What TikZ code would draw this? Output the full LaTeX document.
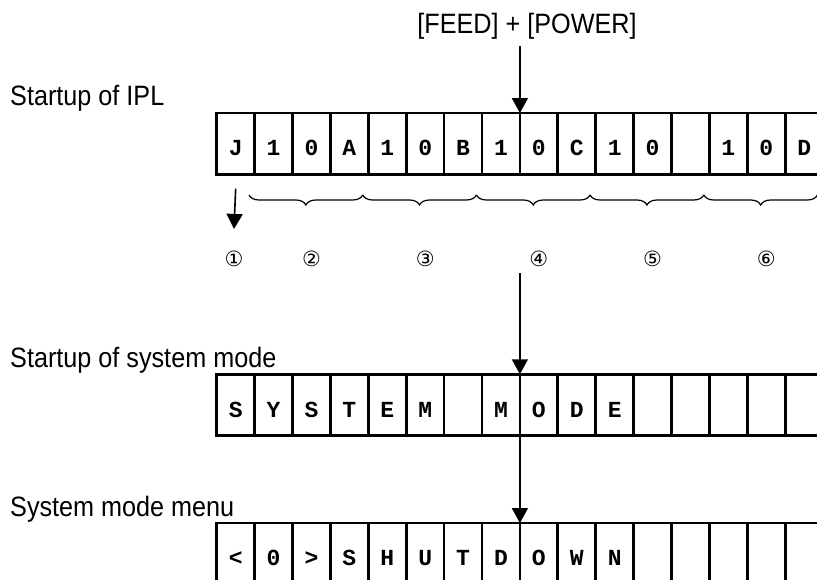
\documentclass[tikz,border=0pt]{standalone}
\usepackage{fontspec}
\usetikzlibrary{arrows.meta, positioning, calc, decorations.pathreplacing}
\newfontfamily\lblfont[FakeStretch=0.9]{Liberation Sans}
\newfontfamily\cellfont{Liberation Mono}
\newfontfamily\circfont{DejaVu Sans}

\begin{document}
\begin{tikzpicture}[x=1pt, y=-1pt,
    cell/.style={draw, line width=2.7pt, minimum width=37.9pt, minimum height=61.5pt,
        inner sep=0pt, outer sep=0pt, text height=24pt, text depth=0pt,
        font=\cellfont\bfseries\fontsize{23}{23}\selectfont},
    lbl/.style={anchor=base west, inner sep=0pt, font=\lblfont\fontsize{28}{30}\selectfont},
    num/.style={inner sep=0pt, font=\circfont\fontsize{21}{21}\selectfont},
    arr/.style={line width=1.6pt, -{Triangle[length=15pt, width=16pt]}},
    brc/.style={line width=1.2pt, decorate, decoration={brace, mirror, amplitude=10pt}}]
    \useasboundingbox (0,0) rectangle (817,580);

    % the three display rows
    \foreach \ch [count=\i] in {J,1,0,A,1,0,B,1,0,C,1,0,{},1,0,D}
        \node[cell] (c1-\i) at ({216.7+37.9*(\i-0.5)}, 143.8) {\ch};
    \foreach \ch [count=\i] in {S,Y,S,T,E,M,{},M,O,D,E,{},{},{},{},{}}
        \node[cell] (c2-\i) at ({216.7+37.9*(\i-0.5)}, 405) {\ch};
    \foreach \ch [count=\i] in {<,0,>,S,H,U,T,D,O,W,N,{},{},{},{},{}}
        \node[cell] (c3-\i) at ({216.7+37.9*(\i-0.5)}, 553.8) {\ch};

    % labels
    \node[lbl] (ipl) at (10, 106) {Startup of IPL};
    \node[lbl] (sysmode) at (10, 367) {Startup of system mode};
    \node[lbl] (menu) at (10, 516) {System mode menu};
    \node[lbl, anchor=base] (feed) at (527, 34) {[FEED] + [POWER]};

    % field braces and numbers
    \foreach \k in {0,...,4}
        \draw[brc] ({249+113.7*\k}, 195) -- ({249+113.7*(\k+1)}, 195);
    \node[num] (n1) at (234, 259) {①};
    \foreach \k/\t in {2/②,3/③,4/④,5/⑤,6/⑥}
        \node[num] (n\k) at ({311.5+113.7*(\k-2)}, 259) {\t};

    % arrows
    \draw[arr] ($(feed.south -| c1-8.north east)+(0,6)$) -- (c1-8.north east);
    \draw[arr] ($(c1-1.south)+(0,14)$) -- ($(n1.north)+(0,-22)$);
    \draw[arr] ($(n4.south -| c2-8.north east)+(0,6)$) -- (c2-8.north east);
    \draw[arr] (c2-8.south east) -- (c3-8.north east);
\end{tikzpicture}
\end{document}
